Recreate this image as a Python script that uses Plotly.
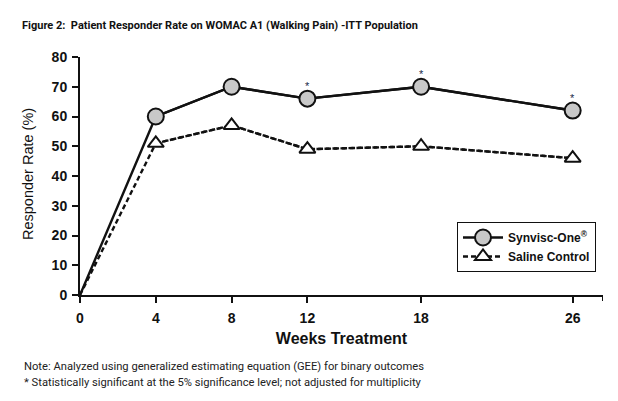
import plotly.graph_objects as go

weeks = [0, 4, 8, 12, 18, 26]
synvisc = [0, 60, 70, 66, 70, 62]
saline = [0, 51, 57, 49, 50, 46]
significant_weeks = [12, 18, 26]
x_ticks = [0, 4, 8, 12, 18, 26]
y_ticks = [0, 10, 20, 30, 40, 50, 60, 70, 80]
footnotes = [
    "Note: Analyzed using generalized estimating equation (GEE) for binary outcomes",
    "* Statistically significant at the 5% significance level; not adjusted for multiplicity",
]

NARROW = "Roboto, Liberation Sans, sans-serif"
ARIAL = "Liberation Sans, Arial, sans-serif"
X_END = 27.6
DASH = "5px,3px"

L, R, T, B = 80, 15, 57, 106
W, H = 618, 401
PW, PH = W - L - R, H - T - B

fig = go.Figure()

fig.add_trace(go.Scatter(x=weeks, y=synvisc, mode="lines", showlegend=False,
                         line=dict(color="#111", width=2.4), hoverinfo="skip"))
fig.add_trace(go.Scatter(x=weeks, y=saline, mode="lines", showlegend=False,
                         line=dict(color="#111", width=2.4, dash=DASH), hoverinfo="skip"))
fig.add_trace(go.Scatter(x=weeks[1:], y=saline[1:], mode="lines+markers", name="Saline Control",
                         line=dict(color="#111", width=2.4, dash=DASH),
                         marker=dict(symbol="triangle-up", size=14, color="white",
                                     line=dict(color="#111", width=2))))
fig.add_trace(go.Scatter(x=weeks[1:], y=synvisc[1:], mode="lines+markers", name="Synvisc-One<sup>®</sup>",
                         line=dict(color="#111", width=2.4),
                         marker=dict(symbol="circle", size=16, color="#c8c8c8",
                                     line=dict(color="#111", width=2))))

for w in significant_weeks:
    fig.add_annotation(x=w, y=synvisc[weeks.index(w)], text="*", showarrow=False,
                       yshift=13, font=dict(family=ARIAL, size=11, color="#1a2a4a"))

fig.update_layout(
    width=W, height=H,
    margin=dict(l=L, r=R, t=T, b=B, autoexpand=False),
    paper_bgcolor="white", plot_bgcolor="white",
    title=dict(text="<b>Figure 2:  Patient Responder Rate on WOMAC A1 (Walking Pain) -ITT Population</b>",
               x=22 / W, xanchor="left", y=1 - 25 / H, yanchor="middle", pad=dict(l=0),
               font=dict(family=NARROW, size=11, color="#111")),
    legend=dict(x=(457 - L) / PW, y=(H - B - 222) / PH, xanchor="left", yanchor="top",
                bordercolor="#111", borderwidth=1, bgcolor="white",
                font=dict(family=ARIAL, size=12, color="#111", weight="bold"),
                traceorder="reversed", tracegroupgap=0, itemwidth=40),
    showlegend=True,
)

fig.update_xaxes(range=[0, X_END], tickvals=x_ticks, automargin=False,
                 showline=True, linecolor="#111", linewidth=2, ticks="outside",
                 ticklen=6, tickwidth=2, tickcolor="#111", showgrid=False, zeroline=False,
                 ticklabelstandoff=3,
                 tickfont=dict(family=ARIAL, size=14, color="#111", weight="bold"),
                 title=dict(text="<b>Weeks Treatment</b>", standoff=8,
                            font=dict(family=ARIAL, size=16, color="#111")))
fig.update_yaxes(range=[0, 80], tickvals=y_ticks, automargin=False,
                 showline=True, linecolor="#111", linewidth=2, ticks="outside",
                 ticklen=6, tickwidth=2, tickcolor="#111", showgrid=False, zeroline=False,
                 ticklabelstandoff=2,
                 tickfont=dict(family=ARIAL, size=14, color="#111", weight="bold"))

# closing tick at the end of the x axis line
fig.add_shape(type="line", xref="x", yref="paper", ysizemode="pixel", yanchor=0,
              x0=X_END, x1=X_END, y0=0, y1=-6, line=dict(color="#111", width=2))

fig.add_annotation(xref="paper", yref="paper", x=(28 - L) / PW, y=(H - B - 174) / PH,
                   text="Responder Rate (%)", textangle=-90, showarrow=False,
                   xanchor="center", yanchor="middle",
                   font=dict(family=ARIAL, size=14.5, color="#111"))

for i, line in enumerate(footnotes):
    fig.add_annotation(xref="paper", yref="paper", x=(22 - L) / PW,
                       y=-((366 + 16 * i) - (H - B)) / PH,
                       xanchor="left", yanchor="middle", showarrow=False, align="left",
                       text=line, font=dict(family=NARROW, size=11.2, color="#222"))

fig.write_html("out.html", config={"displayModeBar": False},
               post_script="document.body.style.margin='0';")
